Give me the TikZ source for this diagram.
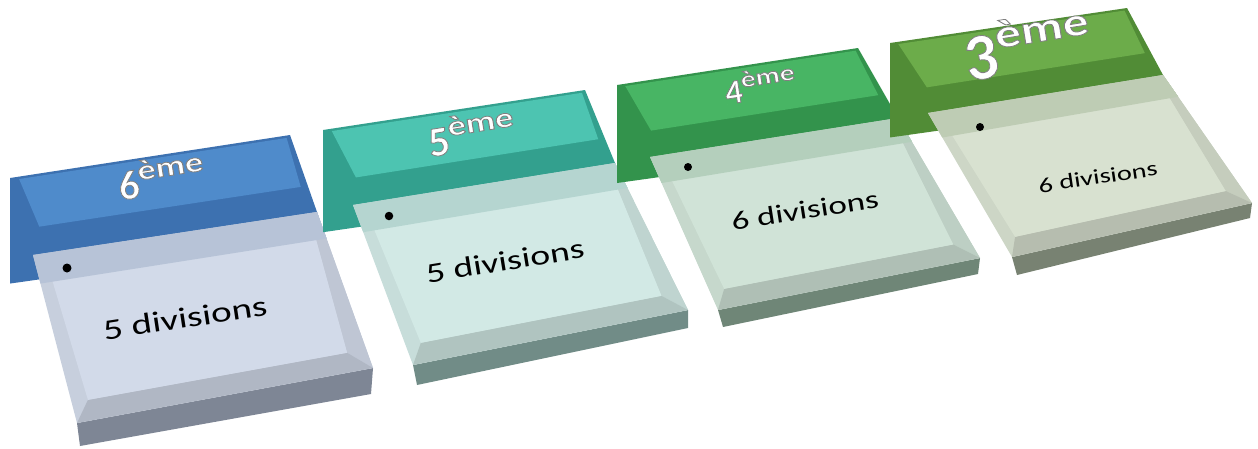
\documentclass[tikz,border=0pt]{standalone}
\usepackage{fontspec}
\setmainfont{Carlito}
\usetikzlibrary{calc}

\definecolor{hdrI}{HTML}{4F8BCB}
\definecolor{hdrIdk}{HTML}{3D71B0}
\definecolor{bodyI}{HTML}{D2DAE9}
\definecolor{sideI}{HTML}{7E8695}
\definecolor{hdrII}{HTML}{4DC4B1}
\definecolor{hdrIIdk}{HTML}{33A08E}
\definecolor{bodyII}{HTML}{D2E9E5}
\definecolor{sideII}{HTML}{718C87}
\definecolor{hdrIII}{HTML}{48B564}
\definecolor{hdrIIIdk}{HTML}{33934C}
\definecolor{bodyIII}{HTML}{D0E3D7}
\definecolor{sideIII}{HTML}{6F8677}
\definecolor{hdrIV}{HTML}{6CAC4A}
\definecolor{hdrIVdk}{HTML}{518C36}
\definecolor{bodyIV}{HTML}{D8E1D0}
\definecolor{sideIV}{HTML}{788272}

\begin{document}
\begin{tikzpicture}[x=1pt, y=-1pt,
  txt/.style={inner sep=0pt, text=black},
  niv/.style={inner sep=0pt, text=white, font=\bfseries},
  dot/.style={circle, fill=black, inner sep=0pt, minimum size=9pt}]

  \useasboundingbox (0,0) rectangle (1258,448);

  \newcommand\hp[4]{\coordinate (#1) at ($($(#2E)!#4!(#2A)$)!#3!($(#2F)!#4!(#2B)$)$);}
  \newcommand\bp[4]{\coordinate (#1) at ($($(#2A)!#4!(#2D)$)!#3!($(#2B)!#4!(#2C)$)$);}
  \newcommand\niveau[3]{\special{pdf:literal 2 Tr 0.8 w 0.5 0.5 0.5 RG}\fontsize{#2}{#2}\selectfont #1\raisebox{0.42em}{\scalebox{1.3}[1]{\fontsize{#3}{#3}\selectfont ème}}}
  \newcommand\bloc[5]{%
    \hp{#1f1}{#1}{0.03}{0.03} \hp{#1f2}{#1}{0.985}{0.03}
    \hp{#1f3}{#1}{0.975}{0.66} \hp{#1f4}{#1}{0.05}{0.66}
    \bp{#1a}{#1}{0}{0.17} \bp{#1b}{#1}{1}{0.17}
    \bp{#1i1}{#1}{0.04}{0.03} \bp{#1i2}{#1}{0.97}{0.03}
    \bp{#1i3}{#1}{0.935}{0.88} \bp{#1i4}{#1}{0.055}{0.88}
    \fill[#3] (#1E) -- (#1F) -- (#1B) -- (#1b) -- (#1E |- #1a) -- cycle; %% header
    \fill[#2] (#1f1) -- (#1f2) -- (#1f3) -- (#1f4) -- cycle;
    \fill[#5] (#1D) -- (#1C) -- (#1P) -- (#1Q) -- cycle; %% side
    \fill[#4!95!black] (#1A) -- (#1B) -- (#1C) -- (#1D) -- cycle;
    \fill[#4!91!black] (#1B) -- (#1C) -- (#1i3) -- (#1i2) -- cycle;
    \fill[#4!84!black] (#1D) -- (#1C) -- (#1i3) -- (#1i4) -- cycle;
    \fill[#4] (#1i1) -- (#1i2) -- (#1i3) -- (#1i4) -- cycle;
    \fill[#4!88!#3!95!black] (#1A) -- (#1B) -- (#1b) -- (#1a) -- cycle; %% band
  }

  % 6eme
  \coordinate (b1E) at (10,178);  \coordinate (b1F) at (290,135);
  \coordinate (b1A) at (33,255);  \coordinate (b1B) at (317,212);
  \coordinate (b1C) at (373,368); \coordinate (b1D) at (77,423);
  \coordinate (b1P) at (371,394); \coordinate (b1Q) at (80,446);
  \bloc{b1}{hdrI}{hdrIdk}{bodyI}{sideI}

  % 5eme
  \coordinate (b2E) at (323,130); \coordinate (b2F) at (585,90);
  \coordinate (b2A) at (353,205); \coordinate (b2B) at (615,163);
  \coordinate (b2C) at (688,310); \coordinate (b2D) at (413,365);
  \coordinate (b2P) at (688,328); \coordinate (b2Q) at (417,385);
  \bloc{b2}{hdrII}{hdrIIdk}{bodyII}{sideII}

  % 4eme
  \coordinate (b3E) at (617,85);  \coordinate (b3F) at (858,48);
  \coordinate (b3A) at (650,157); \coordinate (b3B) at (898,118);
  \coordinate (b3C) at (980,258); \coordinate (b3D) at (718,310);
  \coordinate (b3P) at (978,274); \coordinate (b3Q) at (723,327);
  \bloc{b3}{hdrIII}{hdrIIIdk}{bodyIII}{sideIII}

  % 3eme
  \coordinate (b4E) at (890,43);   \coordinate (b4F) at (1127,8);
  \coordinate (b4A) at (928,113);  \coordinate (b4B) at (1163,75);
  \coordinate (b4C) at (1252,203); \coordinate (b4D) at (1012,257);
  \coordinate (b4P) at (1250,218); \coordinate (b4Q) at (1017,275);
  \bloc{b4}{hdrIV}{hdrIVdk}{bodyIV}{sideIV}

  \node[dot] (d1) at (67,268) {};
  \node[dot, minimum size=8.5pt] (d2) at (389,216) {};
  \node[dot, minimum size=8pt] (d3) at (688,167) {};
  \node[dot, minimum size=8pt] (d4) at (980,127) {};

  \node[txt, rotate=8.6] (t1) at (185,318) {\scalebox{1.35}[1]{\fontsize{29}{30}\selectfont 5 divisions}};
  \node[txt, rotate=9.3] (t2) at (505,261) {\scalebox{1.35}[1]{\fontsize{28}{30}\selectfont 5 divisions}};
  \node[txt, rotate=8.9] (t3) at (805,210) {\scalebox{1.35}[1]{\fontsize{26}{28}\selectfont 6 divisions}};
  \node[txt, rotate=8.5] (t4) at (1098,177) {\scalebox{1.35}[1]{\fontsize{21}{22}\selectfont 6 divisions}};

  \node[niv, rotate=8.6] (n1) at (161,176) {\niveau{6}{41}{28}};
  \node[niv, rotate=9.1] (n2) at (471,132) {\niveau{5}{42}{28}};
  \node[niv, rotate=8.9] (n3) at (760,84) {\niveau{4}{34}{23}};
  \node[niv, rotate=9.2] (n4) at (1027,44) {\niveau{3}{66}{40}};
\end{tikzpicture}
\end{document}
